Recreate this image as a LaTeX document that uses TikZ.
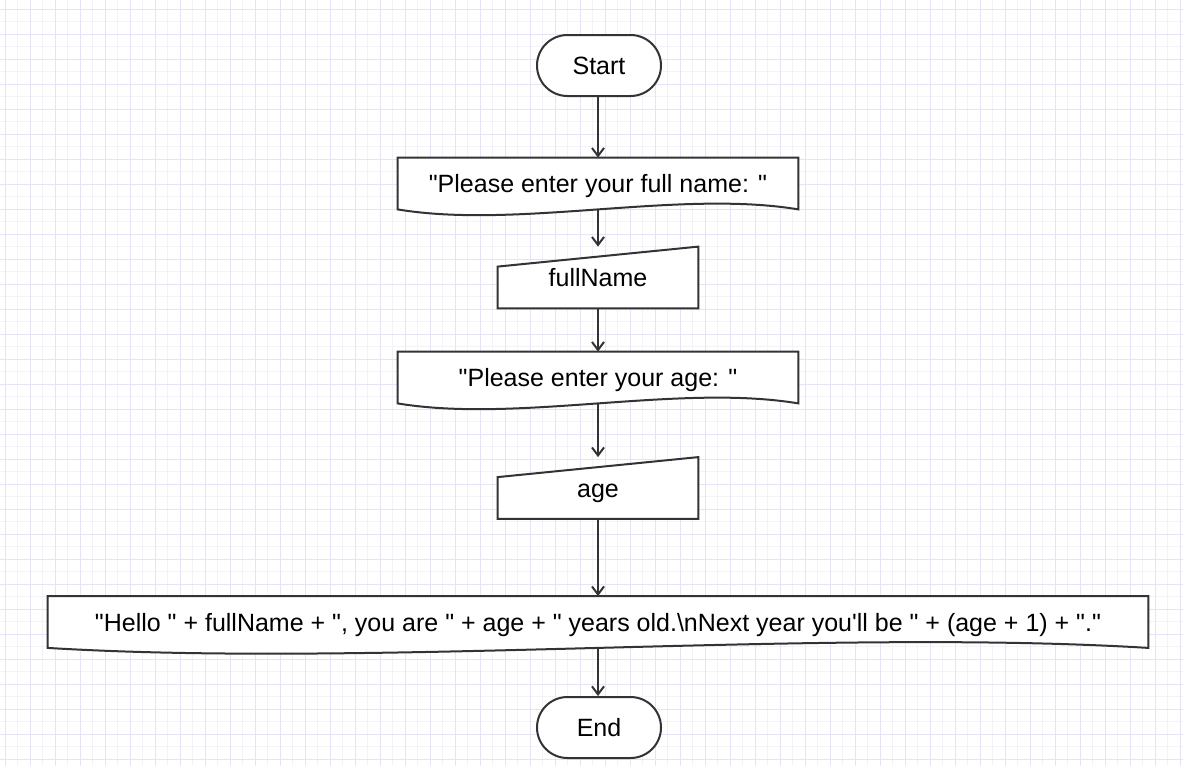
\documentclass[tikz,border=0pt]{standalone}
\usepackage{fontspec}
\setmainfont{Liberation Sans}[Ligatures=TeXOff]
\usepackage{xcolor}
\usepackage{tikz}
\usetikzlibrary{arrows.meta, positioning, calc}
\definecolor{flowline}{HTML}{333333}
\definecolor{gridmajor}{HTML}{E4E4F6}
\definecolor{gridminor}{HTML}{F2F2F9}
\pgfdeclarelayer{bg}
\pgfsetlayers{bg,main}

\tikzset{
  flowfont/.style={font=\fontsize{12.5}{15}\selectfont, text height=9pt, text depth=0pt},
  terminal/.style={rectangle, rounded corners=15.25pt, draw=flowline, line width=1pt, fill=white, inner sep=0pt, minimum width=62pt, minimum height=30.5pt, flowfont},
  docbox/.style={rectangle, inner sep=0pt, minimum height=25.5pt, flowfont},
  inputbox/.style={rectangle, inner sep=0pt, minimum width=100pt, minimum height=30.5pt, flowfont},
  shapeline/.style={draw=flowline, line width=1pt, fill=white},
  flow/.style={draw=flowline, line width=1pt, -{Straight Barb[length=4pt,width=6pt]}}
}

% outlines drawn under the texts
\newcommand{\docoutline}[1]{%
  \filldraw[shapeline] (#1.north west) -- (#1.north east) -- (#1.south east)
    .. controls ($(#1.south west)!0.7!(#1.south east)+(0,-20)$)
    and ($(#1.south west)!0.3!(#1.south east)+(0,20)$) .. (#1.south west) -- cycle;}
\newcommand{\inputoutline}[1]{%
  \filldraw[shapeline] (#1.south west) -- (#1.south east) -- (#1.north east)
    -- ($(#1.north west)+(0,20)$) -- cycle;}

\begin{document}
\begin{tikzpicture}[x=0.5pt, y=-0.5pt]
    \useasboundingbox (0,0) rectangle (1183,766);

    % Grid paper
    \begin{pgfonlayer}{bg}
    \fill[white] (0,0) rectangle (1183,766);
    \foreach \gx in {17.5,42.5,...,1183} \draw[gridminor, line width=0.5pt] (\gx,0) -- (\gx,766);
    \foreach \gy in {21.5,46.5,...,766} \draw[gridminor, line width=0.5pt] (0,\gy) -- (1183,\gy);
    \foreach \gx in {5,30,...,1183} \draw[gridmajor, line width=0.5pt] (\gx,0) -- (\gx,766);
    \foreach \gy in {9,34,...,766} \draw[gridmajor, line width=0.5pt] (0,\gy) -- (1183,\gy);
    \end{pgfonlayer}

    % Steps
    \node[terminal] (start) at (599,65.5) {Start};
    \node[docbox, minimum width=200pt] (askname) at (598,183.5) {"Please enter your full name: "};
    \node[inputbox] (fullname) at (598,277.5) {fullName};
    \node[docbox, minimum width=200pt] (askage) at (598,377.5) {"Please enter your age: "};
    \node[inputbox] (age) at (598,488) {age};
    \node[docbox, minimum width=550pt] (greeting) at (598,622) {"Hello " + fullName + ", you are " + age + " years old.\textbackslash nNext year you'll be " + (age + 1) + "."};
    \node[terminal] (end) at (599,727.5) {End};

    \begin{pgfonlayer}{bg}
    \docoutline{askname}
    \inputoutline{fullname}
    \docoutline{askage}
    \inputoutline{age}
    \docoutline{greeting}
    \end{pgfonlayer}

    % Connectors
    \draw[flow] (start.south -| askname.north) -- (askname);
    \draw[flow] (askname) -- (fullname);
    \draw[flow] (fullname) -- (askage);
    \draw[flow] (askage) -- (age);
    \draw[flow] (age) -- (greeting);
    \draw[flow] (greeting) -- (end.north -| greeting.south);
\end{tikzpicture}
\end{document}
